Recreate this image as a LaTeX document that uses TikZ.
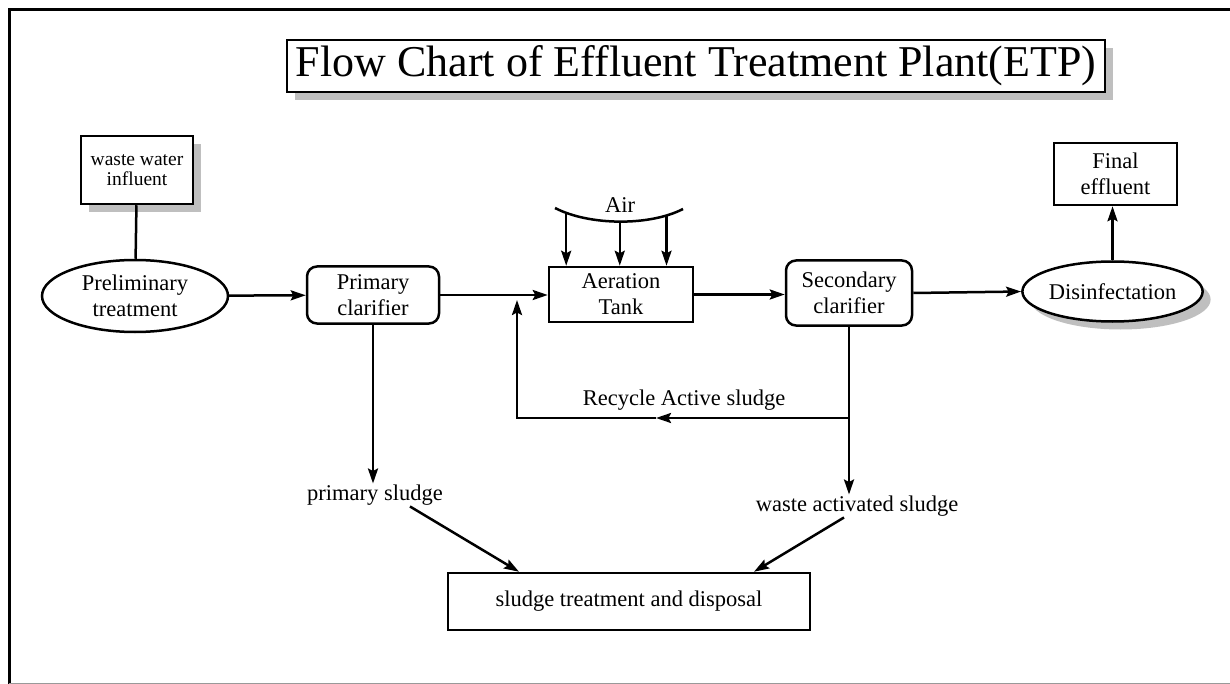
\documentclass[tikz,border=0pt]{standalone}
\usepackage{fontspec}
\setmainfont{Liberation Serif}[Ligatures=CommonOff]
\usetikzlibrary{arrows.meta,shapes.geometric,shadows}

\begin{document}
\begin{tikzpicture}[x=1pt, y=-1pt, line width=2.5pt,
  >={Stealth[length=15pt, width=10pt, inset=2.5pt]},
  every node/.style = {align=center, inner sep=0pt, font=\fontsize{22.5}{26}\selectfont},
  box/.style = {draw, rectangle, fill=white},
  rbox/.style = {draw, rectangle, rounded corners=10pt, fill=white},
  oval/.style = {draw, ellipse, fill=white},
  shade/.style = {drop shadow={shadow xshift=8pt, shadow yshift=-8pt, fill=black!25, opacity=1}}]
  \useasboundingbox (0,0) rectangle (1230,684);
  \draw (9.5,684) -- (9.5,9.5) -- (1230,9.5);
  \draw[line width=1.5pt, black!40] (9,683.5) -- (1230,683.5);

  \node[box, shade, minimum width=818pt, minimum height=52pt, font=\fontsize{44}{52}\selectfont] (title) at (696,66) {Flow Chart of Effluent Treatment Plant(ETP)};
  \node[box, shade, minimum width=112pt, minimum height=68pt, font=\fontsize{19.5}{20.5}\selectfont] (influent) at (137,170) {waste water\\influent};
  \node[oval, minimum width=186pt, minimum height=72pt] (prelim) at (135,296) {Preliminary\\treatment};
  \node[rbox, minimum width=132pt, minimum height=57pt] (primary) at (373,295) {Primary\\clarifier};
  \node[box, minimum width=144pt, minimum height=55pt] (aeration) at (621,294.5) {Aeration\\Tank};
  \node[rbox, minimum width=126pt, minimum height=65pt] (secondary) at (849,293) {Secondary\\clarifier};
  \node[oval, shade, minimum width=159pt, minimum height=60pt] (disinfect) at (1112.5,291.5) {Disinfectation};
  \node[box, minimum width=123pt, minimum height=62pt] (final) at (1115.5,174) {Final\\effluent};
  \node[box, minimum width=362pt, minimum height=57pt] (disposal) at (629,601.5) {sludge treatment and disposal};
  \node (psludge) at (375,495) {primary sludge};
  \node (wsludge) at (857,506) {waste activated sludge};
  \node (air) at (620,205) {Air};
  \node (recycle) at (684,400) {Recycle Active sludge};

  \coordinate (split) at (849,418);
  \coordinate (mid) at (656,418);
  \coordinate (bend) at (517,418);
  \coordinate (inlet) at (517,300);

  \draw (influent) -- (prelim);
  \draw[->] (prelim) -- (primary);
  \draw[->] (primary.east) -- (primary.east -| aeration.west);
  \draw[->] (aeration.east) -- (aeration.east -| secondary.west);
  \draw[->] (secondary.east) -- (disinfect.west);
  \draw[->] (disinfect.north) -- (disinfect.north |- final.south);
  \draw[->] (primary) -- (primary |- psludge.north);
  \draw (secondary) -- (split);
  \draw[->] (split) -- (split |- wsludge.north);
  \draw[->] (split) -- (mid);
  \draw[->] (mid) -- (bend) -- (inlet);
  \draw[->] ([xshift=35pt]psludge.south) -- ([xshift=-110pt]disposal.north);
  \draw[->] ([xshift=-13pt]wsludge.south) -- ([xshift=125pt]disposal.north);

  \draw (555,208) .. controls (590,226) and (650,226) .. (683,209)
    coordinate[pos=0.1] (air1) coordinate[pos=0.5] (air2) coordinate[pos=0.85] (air3);
  \foreach \a in {air1,air2,air3}
    \draw[->] (\a) -- (\a |- aeration.north);
\end{tikzpicture}
\end{document}
